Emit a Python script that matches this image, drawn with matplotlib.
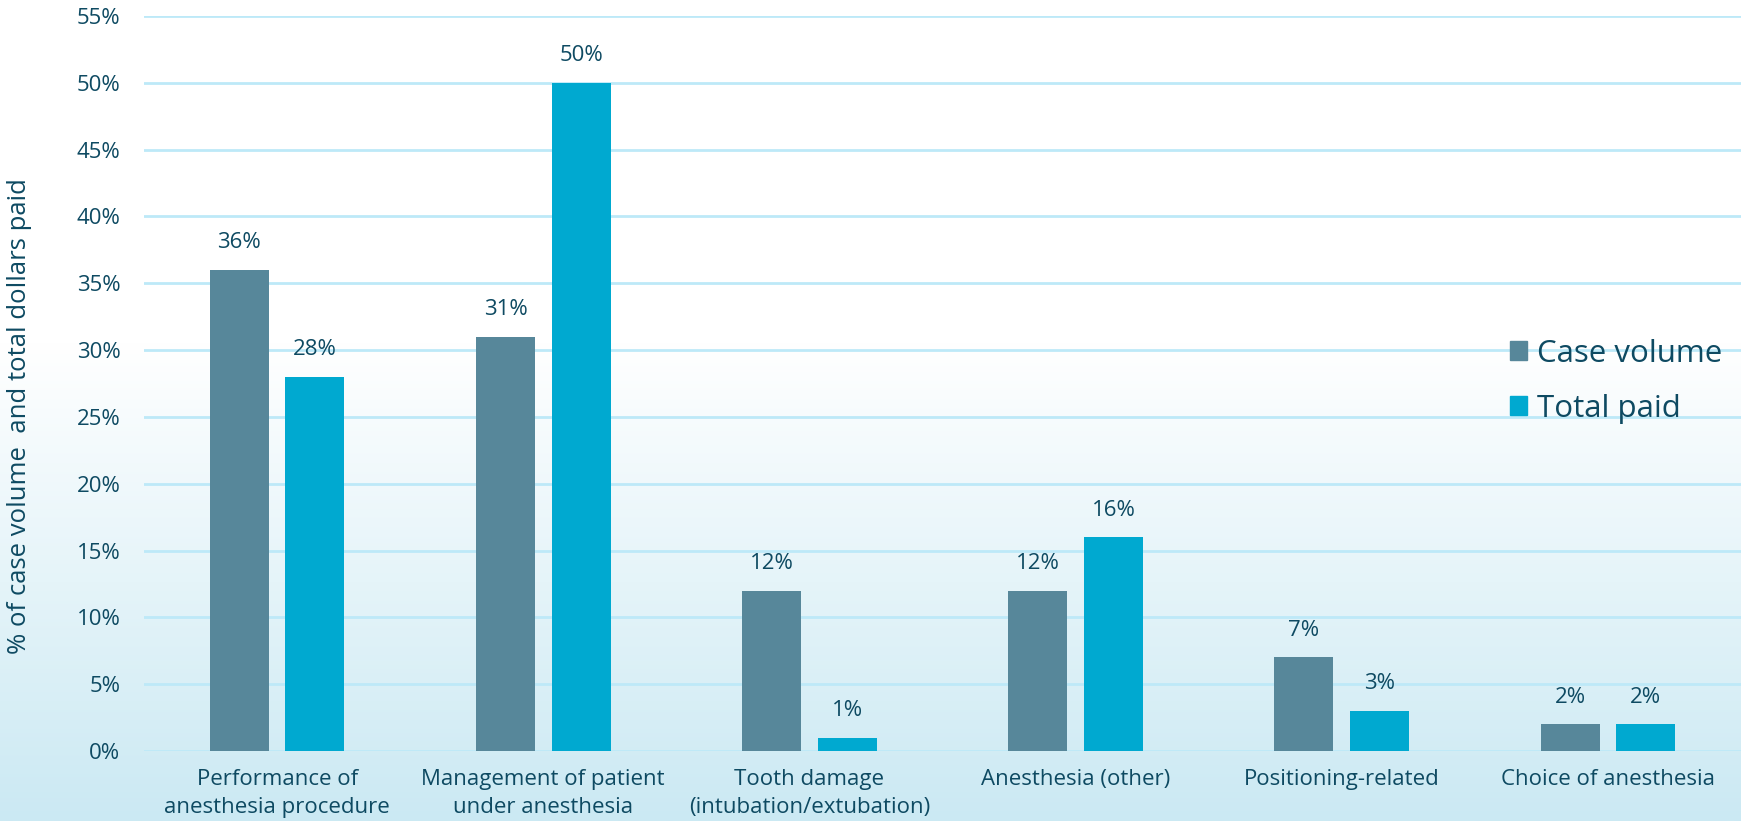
import numpy as np
import matplotlib
matplotlib.use("Agg")
import matplotlib.pyplot as plt
from matplotlib.patches import Patch

# Claim categories and shares (percent)
categories = [
    "Performance of\nanesthesia procedure",
    "Management of patient\nunder anesthesia",
    "Tooth damage\n(intubation/extubation)",
    "Anesthesia (other)",
    "Positioning-related",
    "Choice of anesthesia",
]
case_volume = [36, 31, 12, 12, 7, 2]
total_paid = [28, 50, 1, 16, 3, 2]
series_names = ["Case volume", "Total paid"]
y_ticks = list(range(0, 56, 5))

TEXT = "#0e4a62"
C_CASE = "#57879a"
C_PAID = "#00a9d0"
GRID = "#bde9f8"

plt.rcParams["font.family"] = ["Open Sans", "DejaVu Sans"]

fig = plt.figure(figsize=(17.41, 8.21), dpi=100)

# background: white at the top, fading to pale blue at the bottom
bg = fig.add_axes([0, 0, 1, 1], zorder=-10)
t = np.linspace(0, 1, 400)
f = np.clip((t - 0.42) / 0.58, 0, 1)
top = np.array([1.0, 1.0, 1.0])
bottom = np.array([203, 233, 243]) / 255
grad = top[None, :] * (1 - f[:, None]) + bottom[None, :] * f[:, None]
bg.imshow(grad[:, None, :], aspect="auto", extent=[0, 1, 0, 1])
bg.axis("off")

ax = fig.add_axes([144 / 1741, 1 - 751 / 821, 1 - 144 / 1741, (751 - 16) / 821])
ax.set_facecolor("none")

x = np.arange(len(categories))
w = 0.222
off = 0.142
b1 = ax.bar(x - off, case_volume, w, color=C_CASE, zorder=3)
b2 = ax.bar(x + off, total_paid, w, color=C_PAID, zorder=3)
for bars in (b1, b2):
    ax.bar_label(bars, fmt="%d%%", padding=12, fontsize=16, color=TEXT)

ax.set_xlim(-0.5, len(categories) - 0.5)
ax.set_ylim(0, 55)
ax.set_yticks(y_ticks)
ax.set_yticklabels([f"{v}%" for v in y_ticks], fontsize=16, color=TEXT)
ax.set_xticks(x)
ax.set_xticklabels(categories, fontsize=16, color=TEXT, linespacing=1.42)
ax.tick_params(axis="both", length=0)
ax.tick_params(axis="y", pad=17)
ax.tick_params(axis="x", pad=13)
ax.yaxis.grid(True, color=GRID, linewidth=2, zorder=0)
ax.set_axisbelow(True)
for s in ax.spines.values():
    s.set_visible(False)

fig.text(20 / 1741, 1 - 416 / 821, "% of case volume  and total dollars paid",
         rotation=90, ha="center", va="center", fontsize=18.5, color=TEXT)

handles = [Patch(color=C_CASE), Patch(color=C_PAID)]
leg = ax.legend(handles, series_names, loc="center left",
                bbox_to_anchor=(1510 / 1741, 1 - 381 / 821),
                bbox_transform=fig.transFigure, frameon=False,
                fontsize=22.5, handlelength=0.55, handleheight=0.55,
                handletextpad=0.3, labelspacing=0.8, borderpad=0,
                borderaxespad=0)
for txt in leg.get_texts():
    txt.set_color(TEXT)

fig.savefig("out.png", dpi=100)
